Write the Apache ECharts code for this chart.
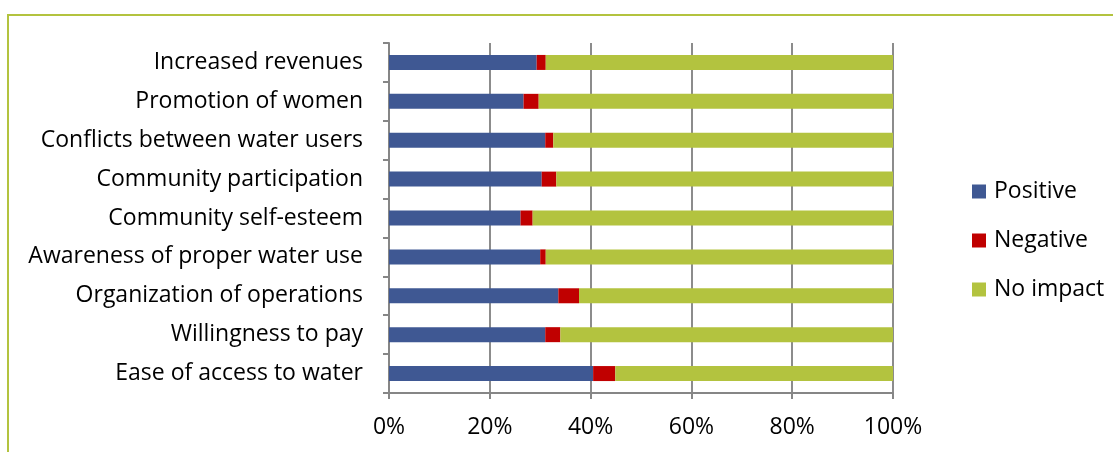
<!DOCTYPE html>
<html>
<head>
<meta charset="utf-8">
<script src="https://cdn.jsdelivr.net/npm/echarts@6/dist/echarts.min.js"></script>
<style>
  html, body { margin: 0; padding: 0; background: #ffffff; }
  #frame { position: absolute; left: 7px; top: 14px; width: 1120px; height: 460px;
           border-left: 2px solid #b3c33f; border-top: 2px solid #b3c33f; }
  #chart { position: absolute; left: 0; top: 0; width: 1113px; height: 452px; }
</style>
</head>
<body>
<div id="frame"></div>
<div id="chart"></div>
<script>
// Impact categories, listed bottom to top as drawn on the category axis
const categories = [
  'Ease of access to water',
  'Willingness to pay',
  'Organization of operations',
  'Awareness of proper water use',
  'Community self-esteem',
  'Community participation',
  'Conflicts between water users',
  'Promotion of women',
  'Increased revenues'
];
// Share of respondents (%) per impact type
const positive = [40.5, 31.0, 33.6, 30.0, 26.1, 30.3, 31.0, 26.7, 29.3];
const negative = [4.4, 3.0, 4.1, 1.1, 2.4, 2.9, 1.6, 3.0, 1.8];
const noImpact = positive.map((p, i) => +(100 - p - negative[i]).toFixed(1));
const xTicks = [0, 20, 40, 60, 80, 100];

const FONT = 'Open Sans';
const FS = 23;
const chart = echarts.init(document.getElementById('chart'), null, { renderer: 'canvas' });

const seriesBase = {
  type: 'bar',
  stack: 'total',
  barWidth: 15,
  emphasis: { disabled: true }
};

chart.setOption({
  animation: false,
  textStyle: { fontFamily: FONT },
  grid: { left: 389, right: 220, top: 43, bottom: 59, containLabel: false },
  legend: {
    orient: 'vertical',
    left: 967,
    top: 175,
    itemWidth: 14,
    itemHeight: 14,
    itemGap: 26,
    icon: 'rect',
    textStyle: { fontFamily: FONT, fontSize: FS, lineHeight: 22, color: '#000000', padding: [0, 0, 0, 3] },
    data: ['Positive', 'Negative', 'No impact']
  },
  xAxis: {
    type: 'value',
    min: 0,
    max: 100,
    interval: 20,
    axisLine: { show: true, lineStyle: { color: '#868686', width: 2 } },
    axisTick: { show: true, length: 6, inside: false, lineStyle: { color: '#868686', width: 2 } },
    splitLine: { show: true, lineStyle: { color: '#8c8c8c', width: 2 } },
    axisLabel: {
      fontFamily: FONT, fontSize: FS, color: '#000000', margin: 23,
      formatter: v => (xTicks.includes(v) ? v + '%' : '')
    }
  },
  yAxis: {
    type: 'category',
    data: categories,
    axisLine: { show: true, lineStyle: { color: '#868686', width: 2 } },
    axisTick: { show: true, length: 6, lineStyle: { color: '#868686', width: 2 } },
    axisLabel: { fontFamily: FONT, fontSize: FS, color: '#000000', margin: 26 }
  },
  series: [
    Object.assign({ name: 'Positive', data: positive, itemStyle: { color: '#3f5893' } }, seriesBase),
    Object.assign({ name: 'Negative', data: negative, itemStyle: { color: '#c00000' } }, seriesBase),
    Object.assign({ name: 'No impact', data: noImpact, itemStyle: { color: '#b3c33f' } }, seriesBase)
  ]
});
</script>
</body>
</html>
